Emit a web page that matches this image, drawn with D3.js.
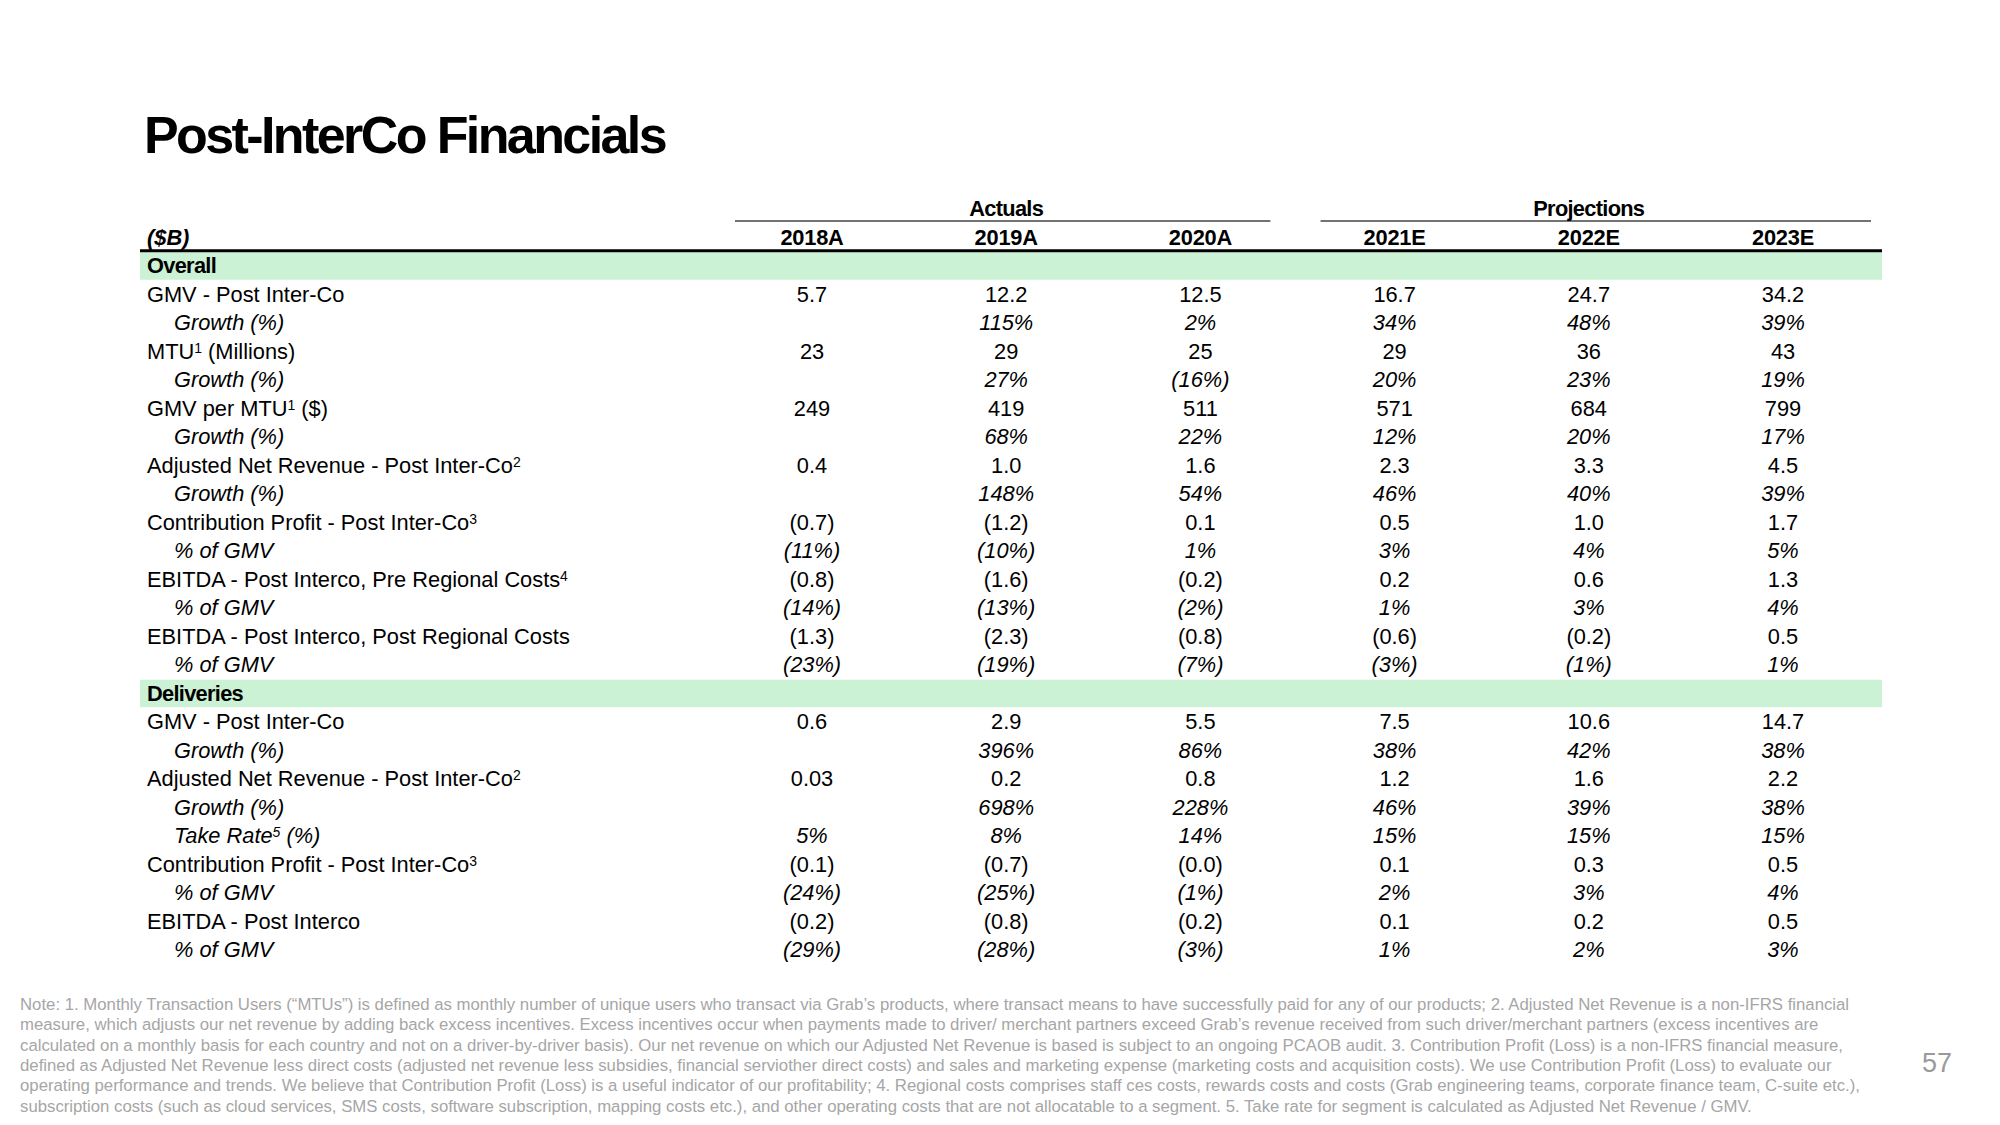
<!DOCTYPE html>
<html><head><meta charset="utf-8">
<script src="https://cdn.jsdelivr.net/npm/d3@7/dist/d3.min.js"></script>
<style>
html,body{margin:0;padding:0;background:#fff;}
svg{display:block;font-family:Arial,"Liberation Sans",sans-serif;}
</style></head>
<body>
<script>
// ---------- DATA ----------
const title = "Post-InterCo Financials";
const unitLabel = "($B)";
const years = ["2018A","2019A","2020A","2021E","2022E","2023E"];
const groupHeaders = [{name:"Actuals", cols:["2018A","2019A","2020A"]},{name:"Projections", cols:["2021E","2022E","2023E"]}];

// Row labels: [label, superscript, italic(sub-row), trailing text]
const overallLabels = [
  ["GMV - Post Inter-Co","",false],
  ["Growth (%)","",true],
  ["MTU","1",false,"(Millions)"],
  ["Growth (%)","",true],
  ["GMV per MTU","1",false,"($)"],
  ["Growth (%)","",true],
  ["Adjusted Net Revenue - Post Inter-Co","2",false],
  ["Growth (%)","",true],
  ["Contribution Profit - Post Inter-Co","3",false],
  ["% of GMV","",true],
  ["EBITDA - Post Interco, Pre Regional Costs","4",false],
  ["% of GMV","",true],
  ["EBITDA - Post Interco, Post Regional Costs","",false],
  ["% of GMV","",true]
];
const overallValues = [
  ["5.7","12.2","12.5","16.7","24.7","34.2"],
  ["","115%","2%","34%","48%","39%"],
  ["23","29","25","29","36","43"],
  ["","27%","(16%)","20%","23%","19%"],
  ["249","419","511","571","684","799"],
  ["","68%","22%","12%","20%","17%"],
  ["0.4","1.0","1.6","2.3","3.3","4.5"],
  ["","148%","54%","46%","40%","39%"],
  ["(0.7)","(1.2)","0.1","0.5","1.0","1.7"],
  ["(11%)","(10%)","1%","3%","4%","5%"],
  ["(0.8)","(1.6)","(0.2)","0.2","0.6","1.3"],
  ["(14%)","(13%)","(2%)","1%","3%","4%"],
  ["(1.3)","(2.3)","(0.8)","(0.6)","(0.2)","0.5"],
  ["(23%)","(19%)","(7%)","(3%)","(1%)","1%"]
];
const deliveriesLabels = [
  ["GMV - Post Inter-Co","",false],
  ["Growth (%)","",true],
  ["Adjusted Net Revenue - Post Inter-Co","2",false],
  ["Growth (%)","",true],
  ["Take Rate","5",true,"(%)"],
  ["Contribution Profit - Post Inter-Co","3",false],
  ["% of GMV","",true],
  ["EBITDA - Post Interco","",false],
  ["% of GMV","",true]
];
const deliveriesValues = [
  ["0.6","2.9","5.5","7.5","10.6","14.7"],
  ["","396%","86%","38%","42%","38%"],
  ["0.03","0.2","0.8","1.2","1.6","2.2"],
  ["","698%","228%","46%","39%","38%"],
  ["5%","8%","14%","15%","15%","15%"],
  ["(0.1)","(0.7)","(0.0)","0.1","0.3","0.5"],
  ["(24%)","(25%)","(1%)","2%","3%","4%"],
  ["(0.2)","(0.8)","(0.2)","0.1","0.2","0.5"],
  ["(29%)","(28%)","(3%)","1%","2%","3%"]
];
const sections = [
  {name:"Overall", labels:overallLabels, values:overallValues},
  {name:"Deliveries", labels:deliveriesLabels, values:deliveriesValues}
];
const footnoteLines = [
  "Note: 1. Monthly Transaction Users (“MTUs”) is defined as monthly number of unique users who transact via Grab’s products, where transact means to have successfully paid for any of our products; 2. Adjusted Net Revenue is a non-IFRS financial",
  "measure, which adjusts our net revenue by adding back excess incentives. Excess incentives occur when payments made to driver/ merchant partners exceed Grab’s revenue received from such driver/merchant partners (excess incentives are",
  "calculated on a monthly basis for each country and not on a driver-by-driver basis). Our net revenue on which our Adjusted Net Revenue is based is subject to an ongoing PCAOB audit. 3. Contribution Profit (Loss) is a non-IFRS financial measure,",
  "defined as Adjusted Net Revenue less direct costs (adjusted net revenue less subsidies, financial serviother direct costs) and sales and marketing expense (marketing costs and acquisition costs). We use Contribution Profit (Loss) to evaluate our",
  "operating performance and trends. We believe that Contribution Profit (Loss) is a useful indicator of our profitability; 4. Regional costs comprises staff ces costs, rewards costs and costs (Grab engineering teams, corporate finance team, C-suite etc.),",
  "subscription costs (such as cloud services, SMS costs, software subscription, mapping costs etc.), and other operating costs that are not allocatable to a segment. 5. Take rate for segment is calculated as Adjusted Net Revenue / GMV."
];
const pageNumber = "57";

// ---------- LAYOUT ----------
const W = 2000, H = 1125;
const svg = d3.select("body").append("svg").attr("width",W).attr("height",H);

const rows = [{type:"header"}];
sections.forEach(s => {
  rows.push({type:"section", name:s.name});
  s.labels.forEach((l,i) => rows.push({type:"data", label:l, values:s.values[i]}));
});

const x = d3.scalePoint().domain(years).range([812, 1783]);
const y = d3.scaleLinear().domain([0, rows.length-1]).range([237, 237 + (rows.length-1)*28.5]);
const rowH = 28.5;
const tableLeft = 140, tableRight = 1882;
const labelX = 147, subX = 174;
const fs = 21.8;
const groupInsets = [[-77, 70], [-74, 88]];

// title
svg.append("text").attr("x",144).attr("y",153)
  .attr("font-size",52).attr("font-weight","bold").attr("letter-spacing","-2.6px")
  .attr("fill","#000").text(title);

// section bands
rows.forEach((r,i) => {
  if (r.type === "section") {
    svg.append("rect").attr("x",tableLeft).attr("y",y(i)-rowH/2+1).attr("width",tableRight-tableLeft).attr("height",rowH-1)
      .attr("fill","#ccf2d5");
    svg.append("text").attr("x",labelX).attr("y",y(i)).attr("dy","0.36em")
      .attr("font-size",fs).attr("font-weight","bold").attr("letter-spacing","-0.7px").text(r.name);
  }
});

// group headers
groupHeaders.forEach((g,gi) => {
  const xa = x(g.cols[0]), xb = x(g.cols[g.cols.length-1]);
  svg.append("line").attr("x1",xa + groupInsets[gi][0]).attr("x2",xb + groupInsets[gi][1]).attr("y1",221).attr("y2",221)
    .attr("stroke","#444").attr("stroke-width",1.3);
  svg.append("text").attr("x",(xa+xb)/2).attr("y",208).attr("dy","0.36em")
    .attr("text-anchor","middle").attr("font-size",fs).attr("font-weight","bold").attr("letter-spacing","-0.7px").text(g.name);
});

// header row
svg.append("text").attr("x",labelX).attr("y",y(0)).attr("dy","0.36em")
  .attr("font-size",fs).attr("font-weight","bold").attr("font-style","italic").text(unitLabel);
years.forEach(yr => {
  svg.append("text").attr("x",x(yr)).attr("y",y(0)).attr("dy","0.36em").attr("text-anchor","middle")
    .attr("font-size",fs).attr("font-weight","bold").attr("letter-spacing","-0.2px").text(yr);
});
svg.append("line").attr("x1",tableLeft).attr("x2",tableRight).attr("y1",y(0)+rowH/2-0.5).attr("y2",y(0)+rowH/2-0.5)
  .attr("stroke","#000").attr("stroke-width",3);

// data rows
rows.forEach((r,i) => {
  if (r.type !== "data") return;
  const [lab, sup, ital, after] = r.label;
  const t = svg.append("text").attr("x", ital ? subX : labelX).attr("y", y(i)).attr("dy","0.36em")
    .attr("font-size",fs).attr("font-style", ital ? "italic" : "normal").attr("fill","#000");
  t.append("tspan").text(lab);
  if (sup) t.append("tspan").attr("font-size",14).attr("dy",-6).text(sup);
  if (after) t.append("tspan").attr("dy", sup ? 6 : 0).text(" " + after);
  r.values.forEach((v,j) => {
    svg.append("text").attr("x",x(years[j])).attr("y",y(i)).attr("dy","0.36em").attr("text-anchor","middle")
      .attr("font-size",fs).attr("font-style", ital ? "italic" : "normal").text(v);
  });
});

// footnote
footnoteLines.forEach((l,i) => {
  svg.append("text").attr("x",20).attr("y",1004 + i*20.4).attr("dy","0.35em")
    .attr("font-size",16.75).attr("fill","#a6a6a6").text(l);
});

// page number
svg.append("text").attr("x",1937).attr("y",1062).attr("dy","0.36em").attr("text-anchor","middle")
  .attr("font-size",27).attr("fill","#9a9a9a").text(pageNumber);
</script>
</body></html>
